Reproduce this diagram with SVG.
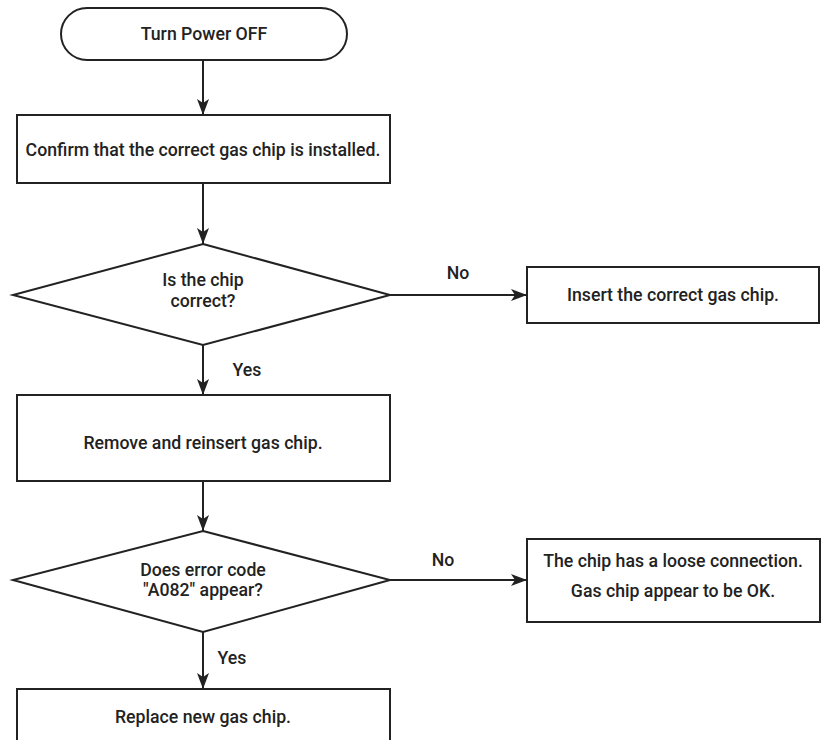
<svg xmlns="http://www.w3.org/2000/svg" width="822" height="740" viewBox="0 0 822 740">
<style>
.s{fill:#fff;stroke:#222;stroke-width:2}
.c{fill:none;stroke:#222;stroke-width:2}
text{font-family:Roboto,"Liberation Sans",sans-serif;font-weight:500;font-size:17.7px;fill:#222;text-anchor:middle;dominant-baseline:central}
</style>
<defs>
<marker id="ah" viewBox="0 0 16 12" refX="16" refY="6" markerWidth="16" markerHeight="12" markerUnits="userSpaceOnUse" orient="auto">
<path d="M0,0 L16,6 L0,12 L4,6 Z" fill="#222"/>
</marker>
</defs>
<rect width="822" height="740" fill="#fff"/>
<g id="connectors">
<line class="c" x1="203" y1="61" x2="203" y2="115" marker-end="url(#ah)"/>
<line class="c" x1="203" y1="183" x2="203" y2="244" marker-end="url(#ah)"/>
<line class="c" x1="390" y1="295" x2="527" y2="295" marker-end="url(#ah)"/>
<text x="458" y="273">No</text>
<line class="c" x1="203" y1="345" x2="203" y2="395" marker-end="url(#ah)"/>
<text x="247" y="370">Yes</text>
<line class="c" x1="203" y1="481" x2="203" y2="531" marker-end="url(#ah)"/>
<line class="c" x1="390" y1="580" x2="527" y2="580" marker-end="url(#ah)"/>
<text x="443" y="560">No</text>
<line class="c" x1="203" y1="632" x2="203" y2="689" marker-end="url(#ah)"/>
<text x="232" y="658">Yes</text>
</g>
<g id="start">
<rect class="s" x="61" y="8" width="286" height="52" rx="26"/>
<text x="204" y="34">Turn Power OFF</text>
</g>
<g id="confirm">
<rect class="s" x="17" y="115" width="373" height="68"/>
<text x="203" y="150">Confirm that the correct gas chip is installed.</text>
</g>
<g id="dec1">
<polygon class="s" points="203,244 390,295 203,345 13,295"/>
<text x="203" y="280">Is the chip</text>
<text x="203" y="301">correct?</text>
</g>
<g id="insert">
<rect class="s" x="527" y="267" width="292" height="56"/>
<text x="673" y="295">Insert the correct gas chip.</text>
</g>
<g id="reinsert">
<rect class="s" x="17" y="395" width="373" height="86"/>
<text x="203" y="443">Remove and reinsert gas chip.</text>
</g>
<g id="dec2">
<polygon class="s" points="203,531 390,580 203,632 13,580"/>
<text x="203" y="570">Does error code</text>
<text x="203" y="590">"A082" appear?</text>
</g>
<g id="loose">
<rect class="s" x="527" y="539" width="293" height="83"/>
<text x="673" y="561">The chip has a loose connection.</text>
<text x="673" y="591">Gas chip appear to be OK.</text>
</g>
<g id="replace">
<rect class="s" x="17" y="689" width="373" height="60"/>
<text x="203" y="717">Replace new gas chip.</text>
</g>
</svg>
